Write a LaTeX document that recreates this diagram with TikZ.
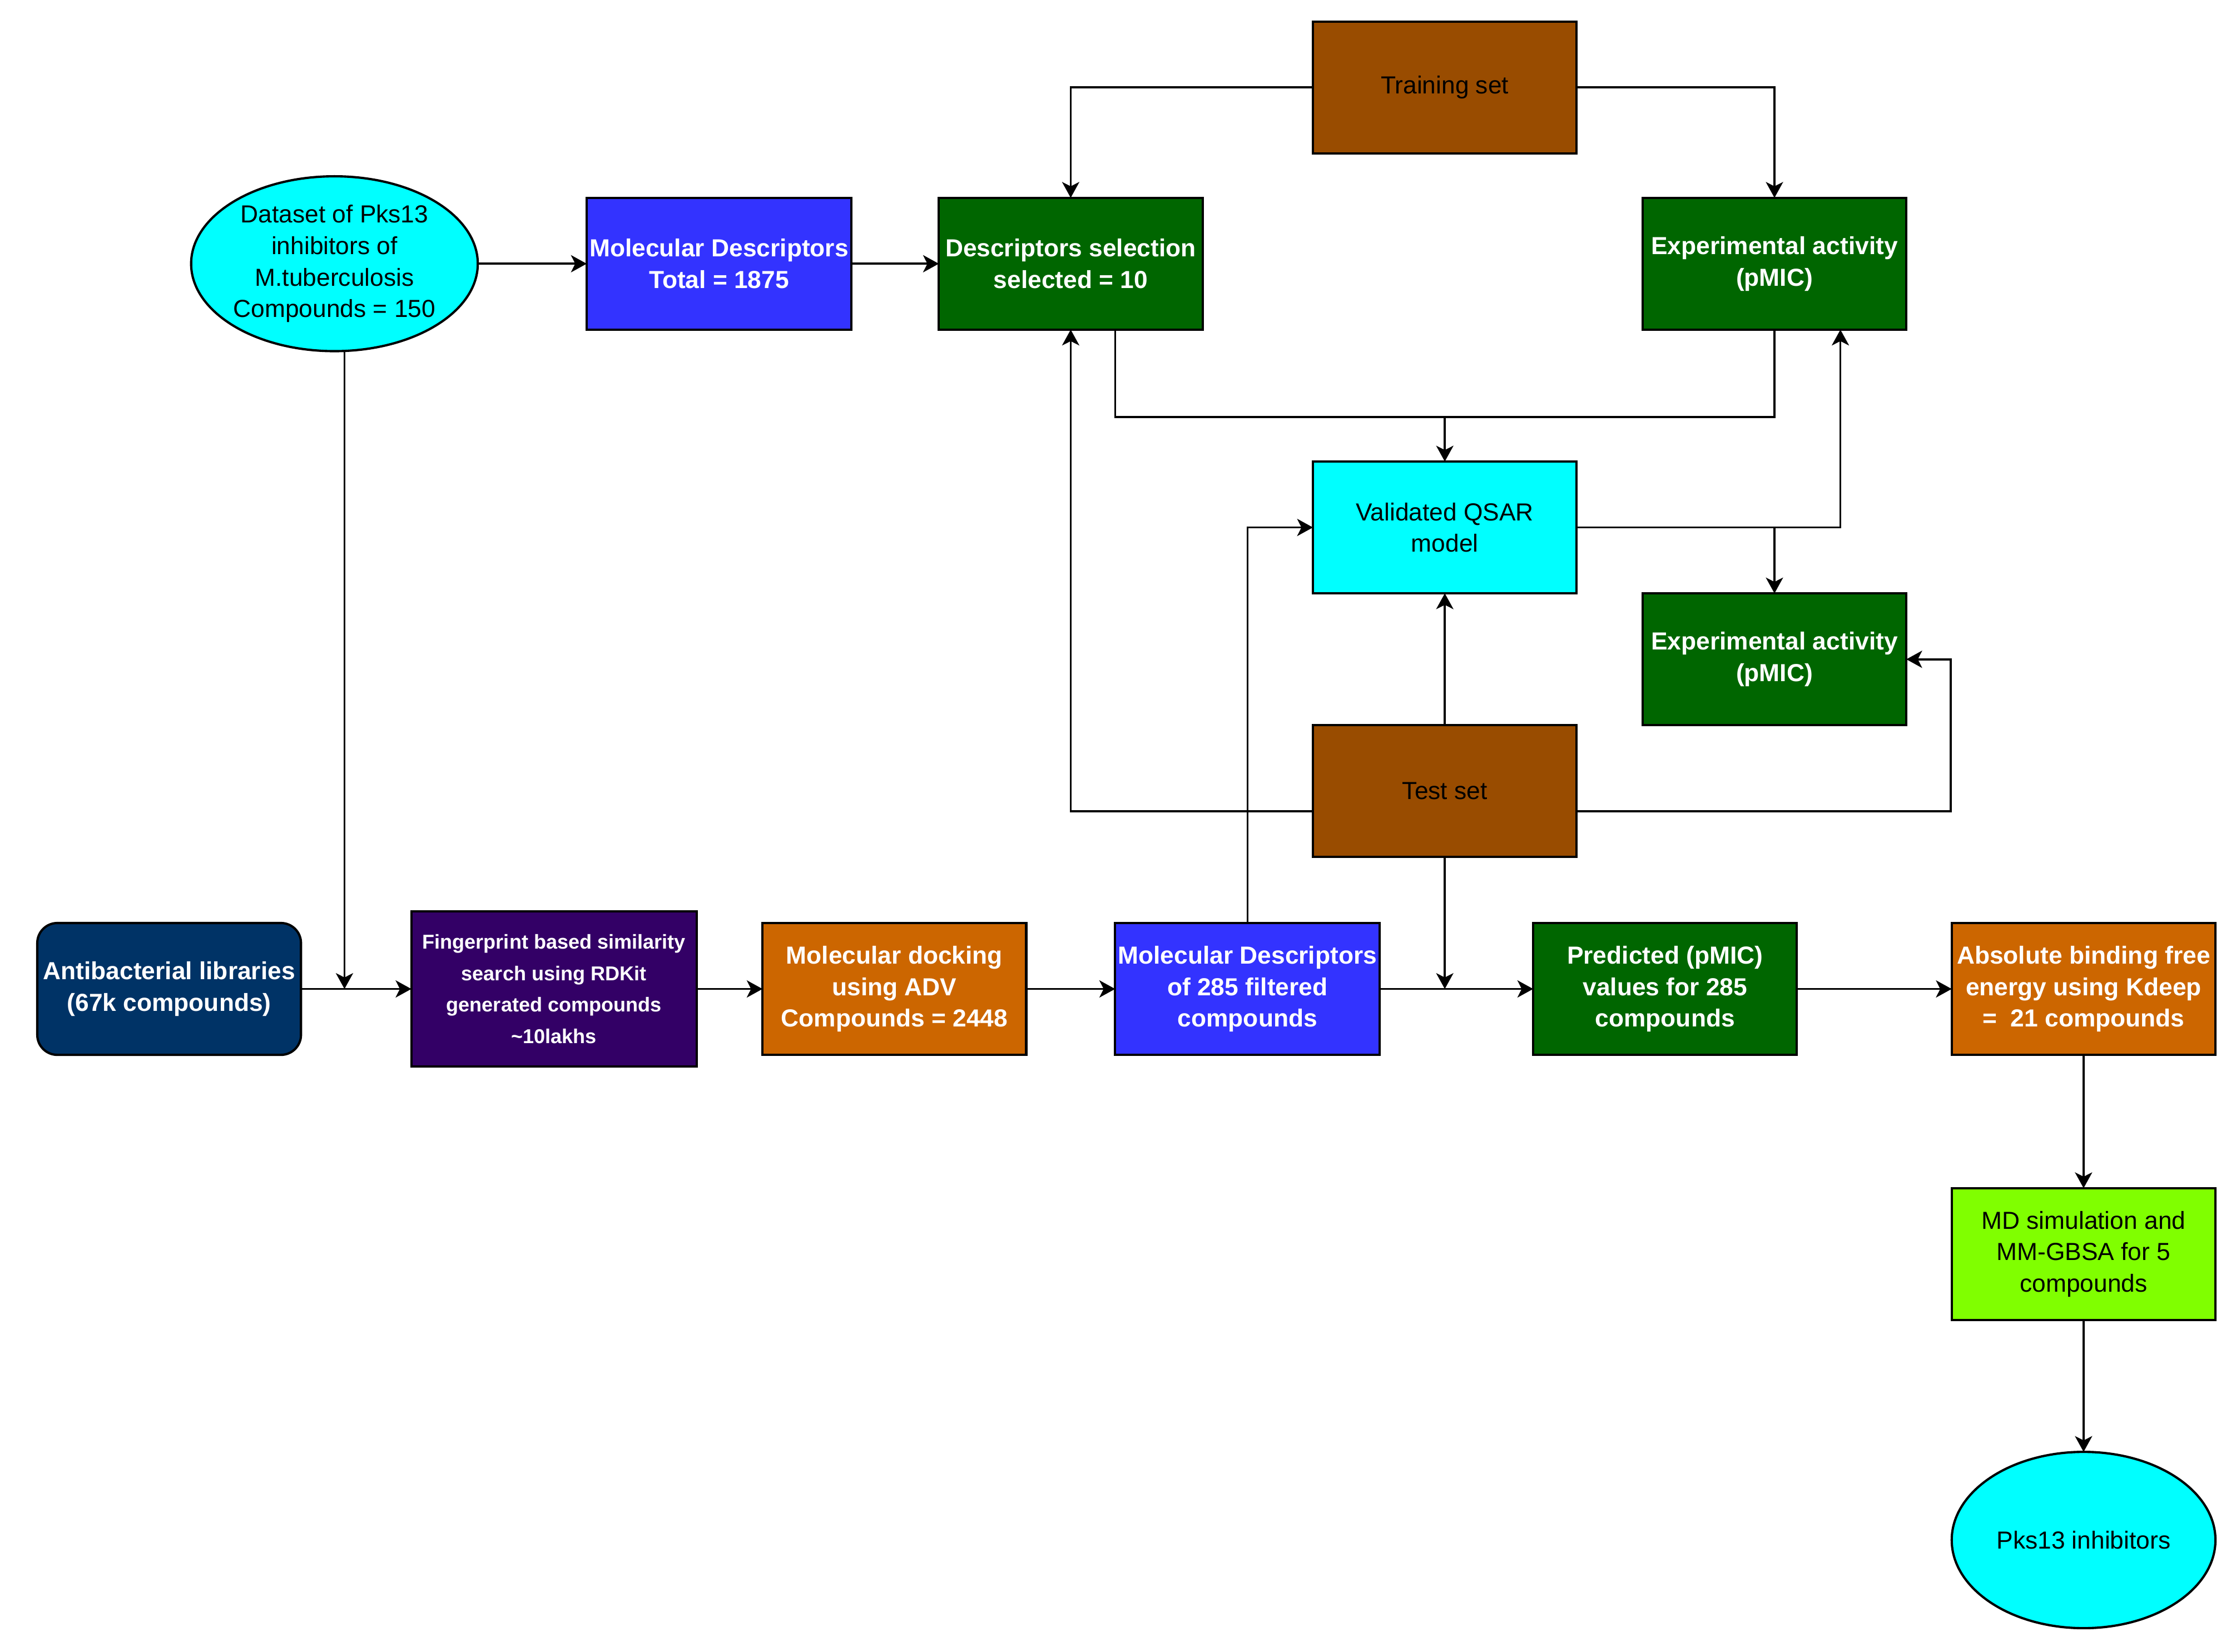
\documentclass[tikz,border=0pt]{standalone}
\usepackage{fontspec}
\setmainfont{Liberation Sans}
\usepackage{tikz}
\usetikzlibrary{shapes,arrows.meta}
\usetikzlibrary{calc,positioning}
\usepackage{xcolor}
\definecolor{setbrown}{HTML}{994C00}
\definecolor{dgreen}{HTML}{006600}
\definecolor{mblue}{HTML}{3333FF}
\definecolor{qcyan}{HTML}{00FFFF}
\definecolor{navy}{HTML}{003366}
\definecolor{purp}{HTML}{330066}
\definecolor{dorange}{HTML}{CC6600}
\definecolor{lgreen}{HTML}{80FF00}
\tikzset{
        block/.style = {draw, rectangle, line width=0.8pt,
            minimum height=46pt,
            minimum width=92pt,
            inner sep=1pt, outer sep=0pt, align=center,
            font=\fontsize{8.6}{11}\selectfont},
        wblock/.style = {block, text=white,
            font=\bfseries\fontsize{8.6}{11}\selectfont},
        oval/.style = {draw, ellipse, line width=0.8pt, fill=qcyan,
            inner sep=0pt, outer sep=0pt, align=center,
            font=\fontsize{8.6}{11}\selectfont},
        arrow/.style={draw, -{Stealth[length=5.5pt,width=6pt,inset=1.5pt]}, line width=0.7pt},
        line/.style={draw, line width=0.7pt},
    }

\begin{document}
\begin{tikzpicture}[x=0.5pt,y=-0.5pt]
    \useasboundingbox (0,0) rectangle (1560,1152.5);

    % QSAR part
    \node[block, fill=setbrown] (train) at (1008,61) {Training set};
    \node[wblock, fill=dgreen] (sel) at (747,184) {Descriptors selection\\selected = 10};
    \node[wblock, fill=mblue, left=30.5pt of sel] (desc) {Molecular Descriptors\\Total = 1875};
    \node[oval, minimum width=100pt, minimum height=61pt, left=38pt of desc] (data)
        {Dataset of Pks13\\inhibitors of\\M.tuberculosis\\Compounds = 150};
    \node[wblock, fill=dgreen] (exp1) at (1238,184) {Experimental activity\\(pMIC)};
    \node[block, fill=qcyan] (qsar) at (1008,368) {Validated QSAR\\model};
    \node[wblock, fill=dgreen] (exp2) at (1238,460) {Experimental activity\\(pMIC)};
    \node[block, fill=setbrown] (test) at (1008,552) {Test set};

    % screening part
    \node[wblock, fill=navy, rounded corners=7pt] (lib) at (118,690) {Antibacterial libraries\\(67k compounds)};
    \node[wblock, fill=purp, minimum width=99.5pt, minimum height=54pt,
        font=\bfseries\fontsize{7}{11}\selectfont, right=38.5pt of lib] (fp)
        {Fingerprint based similarity\\search using RDKit\\generated compounds\\\textasciitilde10lakhs};
    \node[wblock, fill=dorange, right=23pt of fp] (dock) {Molecular docking\\using ADV\\Compounds = 2448};
    \node[wblock, fill=mblue, right=31pt of dock] (desc2) {Molecular Descriptors\\of 285 filtered\\compounds};
    \node[wblock, fill=dgreen, right=53.5pt of desc2] (pred) {Predicted (pMIC)\\values for 285\\compounds};
    \node[wblock, fill=dorange, right=54pt of pred] (abs) {Absolute binding free\\energy using Kdeep\\= \ 21 compounds};
    \node[block, fill=lgreen, below=46.5pt of abs] (md) {MD simulation and\\MM-GBSA for 5\\compounds};
    \node[oval, minimum width=92pt, minimum height=61.5pt, below=46pt of md] (pks) {Pks13 inhibitors};

    % connectors
    \draw[arrow] (data) -- (desc);
    \draw[arrow] (desc) -- (sel);
    \draw[arrow] (train.west) -| (sel.north);
    \draw[arrow] (train.east) -| (exp1.north);
    \coordinate (qtop) at ($(qsar.north)+(0,-31)$);
    \draw[line] ([xshift=15.5pt]sel.south) |- (qtop);
    \draw[line] (exp1.south) |- (qtop);
    \draw[arrow] (qtop) -- (qsar.north);
    \draw[arrow] (qsar.east) -| ([xshift=23pt]exp1.south);
    \draw[arrow] (qsar.east) -| (exp2.north);
    \draw[arrow] (test.north) -- (qsar.south);
    \draw[arrow] ([yshift=-7pt]test.west) -| (sel.south);
    \coordinate (exp2r) at ($(exp2.east)+(31,0)$);
    \draw[arrow] ([yshift=-7pt]test.east) -| (exp2r) -- (exp2.east);
    \draw[arrow] (test.south) -- (test.south |- desc2.east);
    \draw[arrow] (desc2.north) |- (qsar.west);
    \draw[arrow] ([xshift=3.5pt]data.south) -- ([xshift=3.5pt]data.south |- lib.east);
    \draw[arrow] (lib) -- (fp);
    \draw[arrow] (fp) -- (dock);
    \draw[arrow] (dock) -- (desc2);
    \draw[arrow] (desc2) -- (pred);
    \draw[arrow] (pred) -- (abs);
    \draw[arrow] (abs) -- (md);
    \draw[arrow] (md) -- (pks);
\end{tikzpicture}
\end{document}
